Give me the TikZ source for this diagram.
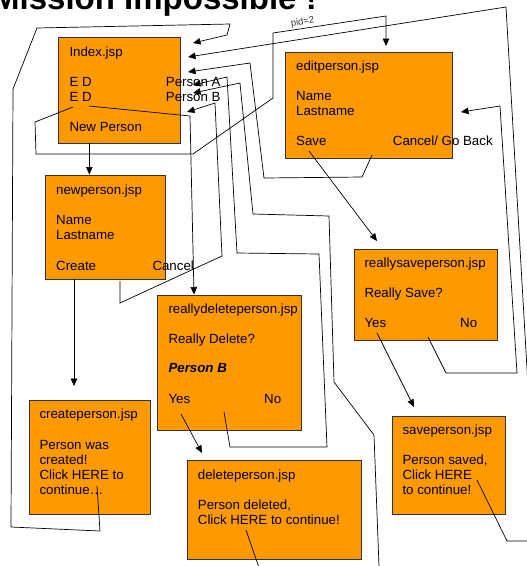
\documentclass[tikz,border=0pt]{standalone}
\usepackage{fontspec}
\setmainfont{Liberation Sans}
\usetikzlibrary{arrows.meta}
\definecolor{boxorange}{HTML}{FF9900}
\definecolor{boxline}{HTML}{333333}
\tikzset{
  page/.style={draw=boxline, line width=0.9pt, fill=boxorange, inner sep=0pt, outer sep=0pt, anchor=north west},
  lbl/.style={anchor=base west, inner sep=0pt, font=\fontsize{13.3}{15}\selectfont},
  wire/.style={draw=black, line width=0.7pt},
  arr/.style={wire, -{Triangle[length=7.5pt,width=6.5pt]}},
  pidlbl/.style={font=\fontsize{9.5}{10}\selectfont, sloped, above, inner sep=1.5pt, text=black!80},
}
\begin{document}
\begin{tikzpicture}[x=1pt,y=-1pt]
\useasboundingbox (0,0) rectangle (527,566);
\clip (0,0) rectangle (527,566);

% title
\node[anchor=base west, inner sep=0pt, font=\fontsize{33}{33}\selectfont\bfseries] (title) at (-8,9) {Mission Impossible !};

% boxes
\node[page, minimum width=121.3pt, minimum height=106pt] (index) at (58.7,37) {};
\node[page, minimum width=166.3pt, minimum height=106pt] (edit) at (285.7,52) {};
\node[page, minimum width=119.3pt, minimum height=103.3pt] (newp) at (45.7,175.7) {};
\node[page, minimum width=144.4pt, minimum height=135.7pt] (rdel) at (157.3,295) {};
\node[page, minimum width=143.7pt, minimum height=91pt] (rsave) at (354,249) {};
\node[page, minimum width=121pt, minimum height=113.3pt] (create) at (29,400.7) {};
\node[page, minimum width=174pt, minimum height=98.3pt] (del) at (187.7,460.7) {};
\node[page, minimum width=113.7pt, minimum height=98pt] (save) at (392,416) {};

% texts: index
\node[lbl] (i1) at (69.3,56) {Index.jsp};
\node[lbl] (i2) at (69.3,86) {E D};
\node[lbl] (i3) at (69.3,101) {E D};
\node[lbl] (i4) at (165.7,86) {Person A};
\node[lbl] (i5) at (165.7,101) {Person B};
\node[lbl] (i6) at (69.3,131.5) {New Person};
% edit
\node[lbl] (e1) at (296,70.7) {editperson.jsp};
\node[lbl] (e2) at (296,100.7) {Name};
\node[lbl] (e3) at (296,115.7) {Lastname};
\node[lbl] (e4) at (296,145.7) {Save};
\node[lbl] (e5) at (392.7,145.7) {Cancel/ Go Back};
% new
\node[lbl] (n1) at (56,194.3) {newperson.jsp};
\node[lbl] (n2) at (56,224) {Name};
\node[lbl] (n3) at (56,239) {Lastname};
\node[lbl] (n4) at (56,270) {Create};
\node[lbl] (n5) at (152.3,270) {Cancel};
% really delete
\node[lbl] (d1) at (168.3,313.3) {reallydeleteperson.jsp};
\node[lbl] (d2) at (168.3,343.3) {Really Delete?};
\node[lbl, font=\fontsize{13.3}{15}\selectfont\bfseries\itshape] (d3) at (168.3,372.7) {Person B};
\node[lbl] (d4) at (168.3,403.3) {Yes};
\node[lbl] (d5) at (264,403.3) {No};
% really save
\node[lbl] (s1) at (364.3,267.3) {reallysaveperson.jsp};
\node[lbl] (s2) at (364.3,297.7) {Really Save?};
\node[lbl] (s3) at (364.3,327.7) {Yes};
\node[lbl] (s4) at (460,327.7) {No};
% create
\node[lbl] (c1) at (39.3,418.3) {createperson.jsp};
\node[lbl] (c2) at (39.3,449) {Person was};
\node[lbl] (c3) at (39.3,464) {created!};
\node[lbl] (c4) at (39.3,479) {Click HERE to};
\node[lbl] (c5) at (39.3,494) {continue…};
% delete
\node[lbl] (x1) at (197.7,479) {deleteperson.jsp};
\node[lbl] (x2) at (197.7,509) {Person deleted,};
\node[lbl] (x3) at (197.7,524) {Click HERE to continue!};
% save
\node[lbl] (v1) at (402.3,434) {saveperson.jsp};
\node[lbl] (v2) at (402.3,464) {Person saved,};
\node[lbl] (v3) at (402.3,479) {Click HERE};
\node[lbl] (v4) at (402.3,494) {to continue!};

% connector end points
\coordinate (newOut) at (89.3,143);   \coordinate (newIn) at (89.3,174.5);
\coordinate (crOut) at (97,486);      \coordinate (crIn) at (193,43);
\coordinate (svOut) at (309,151);     \coordinate (svIn) at (377,241);
\coordinate (ecOut) at (372,155);     \coordinate (ecIn) at (188,72);
\coordinate (spOut) at (477,480);     \coordinate (spIn) at (188,57);
\coordinate (ncOut) at (120,281);     \coordinate (ncIn) at (187,112);
\coordinate (dbOut) at (89,106);      \coordinate (dbIn) at (194,294.5);
\coordinate (ebOut) at (73,107);      \coordinate (ebIn) at (386,46);
\coordinate (rnOut) at (428,337);     \coordinate (rnIn) at (461,112);
\coordinate (dnOut) at (224,412);     \coordinate (dnIn) at (193,85);
\coordinate (dpOut) at (246,530);     \coordinate (dpIn) at (193,93);
\coordinate (crtOut) at (74,279);     \coordinate (crtIn) at (74,386);
\coordinate (dyOut) at (181,414);     \coordinate (dyIn) at (202,453);
\coordinate (syOut) at (377,333);     \coordinate (syIn) at (414,407);

% connectors
\draw[arr] (newOut) -- (newIn);
\draw[arr] (crOut) -- (100,531) -- (11,527) -- (13,89) -- (37,28) -- (230,24) -- (227,35) -- (crIn);
\draw[arr] (svOut) -- (svIn);
\draw[arr] (ecOut) -- (362,177) -- (264,178) -- (250,63) -- (ecIn);
\draw[arr] (spOut) -- (507,541) -- (537,541) -- (506,7) -- (spIn);
\draw[arr] (ncOut) -- (120,303) -- (222,256) -- (215,103) -- (ncIn);
\draw[arr] (dbOut) -- (190,116) -- (dbIn);
\draw[arr] (ebOut) -- (35,122) -- (36,154) -- (193,154) -- (273,98) -- (273,33)
   -- node[pidlbl, pos=0.27] {pid=2} (386,16) -- (ebIn);
\draw[arr] (rnOut) -- (446,373) -- (517,373) -- (500,106) -- (rnIn);
\draw[arr] (dnOut) -- (230,447) -- (327,447) -- (319,254) -- (237,253) -- (227,77) -- (dnIn);
\draw[arr] (dpOut) -- (264,582) -- (380,582) -- (379,566) -- (374,435) -- (334,382) -- (329,216) -- (253,214) -- (240,83) -- (dpIn);
\draw[arr] (crtOut) -- (crtIn);
\draw[arr] (dyOut) -- (dyIn);
\draw[arr] (syOut) -- (syIn);
\end{tikzpicture}
\end{document}
